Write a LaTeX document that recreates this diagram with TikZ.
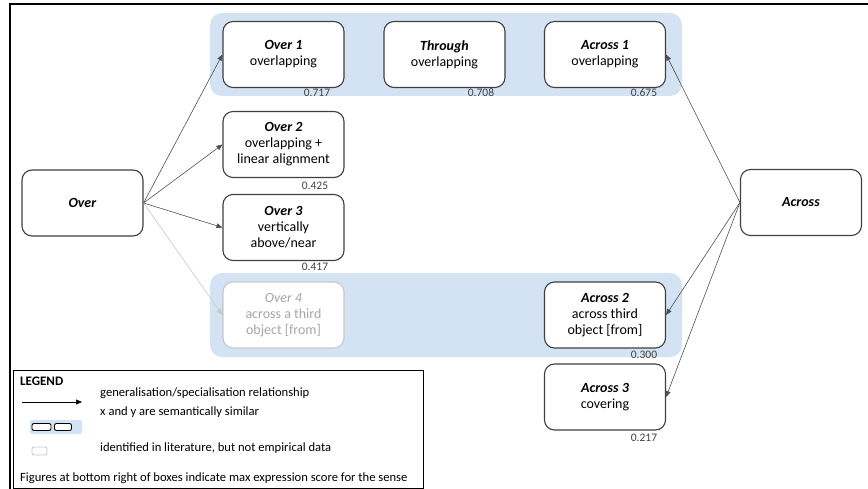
\documentclass[tikz,border=0pt]{standalone}
\usepackage{fontspec}
\setmainfont{Carlito}
\usetikzlibrary{arrows.meta}
\definecolor{bandblue}{HTML}{D4E3F3}
\definecolor{boxc}{HTML}{404040}
\definecolor{faint}{HTML}{C8C8C8}
\definecolor{fainttext}{HTML}{A6A6A6}
\definecolor{edgec}{HTML}{505050}
\tikzset{
  sense/.style={draw=boxc, line width=1.1pt, rounded corners=10pt, fill=white,
    minimum width=121pt, minimum height=66pt, align=center, inner sep=0pt,
    font=\fontsize{14}{16}\selectfont},
  ghost/.style={sense, draw=faint, text=fainttext},
  band/.style={fill=bandblue, draw=none, rounded corners=12pt},
  score/.style={font=\fontsize{11.5}{13}\selectfont, text=boxc, inner sep=0pt},
  rel/.style={draw=edgec, line width=0.6pt, -{Triangle[length=6pt,width=5pt]}},
  ghostrel/.style={rel, draw=faint, -{Triangle[length=6pt,width=5pt,fill=faint]}},
  legtext/.style={anchor=west, inner sep=0pt, font=\fontsize{12.6}{14}\selectfont},
  minibox/.style={draw=black, line width=0.9pt, rounded corners=2pt, fill=white, inner sep=0pt}
}
\begin{document}
\begin{tikzpicture}[x=1pt,y=-1pt]
\useasboundingbox (0,0) rectangle (868,489);
% outer frame
\draw[line width=1.2pt] (10,489) -- (10,4) -- (868,4);
% bands
\fill[band] (210,13) rectangle (682,96);
\fill[band] (210,273) rectangle (682,357);
% nodes
\node[sense] (over) at (82.5,203) {\textbf{\textit{Over}}};
\node[sense] (across) at (801,202.5) {\textbf{\textit{Across}}};
\node[sense] (o1) at (283.5,54.5) {\textbf{\textit{Over 1}}\\overlapping};
\node[sense] (th) at (444.5,54.5) {\textbf{\textit{Through}}\\overlapping};
\node[sense] (a1) at (605,54.5) {\textbf{\textit{Across 1}}\\overlapping};
\node[sense] (o2) at (283.5,144.5) {\textbf{\textit{Over 2}}\\overlapping +\\linear alignment};
\node[sense] (o3) at (283.5,227.5) {\textbf{\textit{Over 3}}\\vertically\\above/near};
\node[ghost] (o4) at (283.5,315) {\textit{Over 4}\\across a third\\object [from]};
\node[sense] (a2) at (605,315) {\textbf{\textit{Across 2}}\\across third\\object [from]};
\node[sense] (a3) at (605,397) {\textbf{\textit{Across 3}}\\covering};
% scores
\node[score] (s1) at (317,93) {0.717};
\node[score] (s2) at (481,93) {0.708};
\node[score] (s3) at (644,93) {0.675};
\node[score] (s4) at (315,186) {0.425};
\node[score] (s5) at (315,267) {0.417};
\node[score] (s6) at (644,355) {0.300};
\node[score] (s7) at (644,438) {0.217};
% relations
\draw[rel] (over.east) -- (o1.west);
\draw[rel] (over.east) -- (o2.west);
\draw[rel] (over.east) -- (o3.west);
\draw[ghostrel] (over.east) -- (o4.west);
\draw[rel] (across.west) -- (a1.east);
\draw[rel] (across.west) -- (a2.east);
\draw[rel] (across.west) -- (a3.east);
% legend
\draw[line width=0.9pt] (13,370) rectangle (423,488);
\node[legtext, font=\fontsize{13}{14}\selectfont\bfseries] (lg) at (20,381) {LEGEND};
\coordinate (la) at (22,402);
\coordinate (lb) at (82,402);
\draw[line width=0.6pt, -{Triangle[length=6pt,width=5pt]}] (la) -- (lb);
\node[legtext] (t1) at (100,393) {generalisation/specialisation relationship};
\fill[bandblue, rounded corners=2pt] (30,420) rectangle (82,434);
\node[minibox, minimum width=19pt, minimum height=7pt] (m1) at (41.5,427) {};
\node[minibox, minimum width=17pt, minimum height=7pt] (m2) at (63,427) {};
\node[legtext] (t2) at (100,412) {x and y are semantically similar};
\node[minibox, draw=faint, minimum width=15pt, minimum height=8pt] (m3) at (39.5,451) {};
\node[legtext] (t3) at (100,448) {identified in literature, but not empirical data};
\node[legtext] (t4) at (20,478) {Figures at bottom right of boxes indicate max expression score for the sense};
\end{tikzpicture}
\end{document}
